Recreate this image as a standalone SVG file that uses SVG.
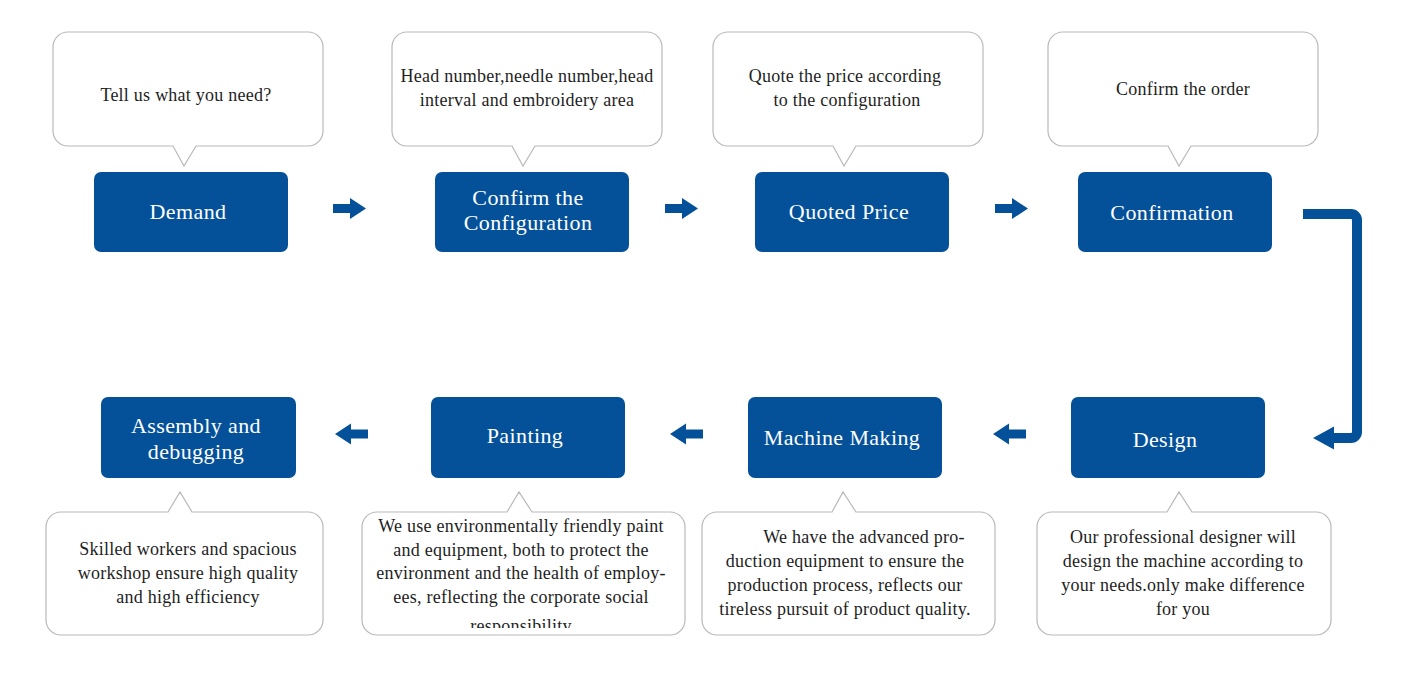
<svg xmlns="http://www.w3.org/2000/svg" width="1425" height="679" viewBox="0 0 1425 679">
<style>
.bubble{fill:#fff;stroke:#b9b9b9;stroke-width:1.2}
.box{fill:#04519a}
.lbl{font-family:"Liberation Serif","Times New Roman",serif;font-size:22px;fill:#fff;text-anchor:middle;letter-spacing:0.4px}
.txt{font-family:"Liberation Serif","Times New Roman",serif;font-size:18px;fill:#1e1e1e;text-anchor:middle;letter-spacing:0.25px}
.arr{fill:#04519a}
</style>
<defs>
<path id="ra" d="M0,-4.5 H17 V-10.5 L33,0 L17,10.5 V4.5 H0 Z"/>
<clipPath id="clipP"><rect x="362" y="512" width="323" height="116"/></clipPath>
</defs>
<rect width="1425" height="679" fill="#fff"/>

<g id="demand">
<path class="bubble" d="M68,32 H308 A15,15 0 0 1 323,47 V131 A15,15 0 0 1 308,146 H196 L184,166 L173,146 H68 A15,15 0 0 1 53,131 V47 A15,15 0 0 1 68,32 Z"/>
<text class="txt" x="186" y="101">Tell us what you need?</text>
<rect class="box" x="94" y="172" width="194" height="80" rx="7"/>
<text class="lbl" x="188" y="219">Demand</text>
</g>

<g id="configuration">
<path class="bubble" d="M407,32 H647 A15,15 0 0 1 662,47 V131 A15,15 0 0 1 647,146 H535 L523,166 L512,146 H407 A15,15 0 0 1 392,131 V47 A15,15 0 0 1 407,32 Z"/>
<text class="txt" x="527" y="82">Head number,needle number,head</text>
<text class="txt" x="527" y="106">interval and embroidery area</text>
<rect class="box" x="435" y="172" width="194" height="80" rx="7"/>
<text class="lbl" x="528" y="205">Confirm the</text>
<text class="lbl" x="528" y="230">Configuration</text>
</g>

<g id="quoted">
<path class="bubble" d="M728,32 H968 A15,15 0 0 1 983,47 V131 A15,15 0 0 1 968,146 H856 L844,166 L833,146 H728 A15,15 0 0 1 713,131 V47 A15,15 0 0 1 728,32 Z"/>
<text class="txt" x="845" y="82">Quote the price according</text>
<text class="txt" x="847" y="106">to the configuration</text>
<rect class="box" x="755" y="172" width="194" height="80" rx="7"/>
<text class="lbl" x="849" y="219">Quoted Price</text>
</g>

<g id="confirmation">
<path class="bubble" d="M1063,32 H1303 A15,15 0 0 1 1318,47 V131 A15,15 0 0 1 1303,146 H1191 L1179,166 L1168,146 H1063 A15,15 0 0 1 1048,131 V47 A15,15 0 0 1 1063,32 Z"/>
<text class="txt" x="1183" y="95">Confirm the order</text>
<rect class="box" x="1078" y="172" width="194" height="80" rx="7"/>
<text class="lbl" x="1172" y="220">Confirmation</text>
</g>

<g id="design">
<path class="bubble" d="M1052,512 H1167 L1179,492 L1192,512 H1316 A15,15 0 0 1 1331,527 V620 A15,15 0 0 1 1316,635 H1052 A15,15 0 0 1 1037,620 V527 A15,15 0 0 1 1052,512 Z"/>
<text class="txt" x="1183" y="543">Our professional designer will</text>
<text class="txt" x="1183" y="567">design the machine according to</text>
<text class="txt" x="1183" y="591">your needs.only make difference</text>
<text class="txt" x="1183" y="615">for you</text>
<rect class="box" x="1071" y="397" width="194" height="81" rx="7"/>
<text class="lbl" x="1165" y="447">Design</text>
</g>

<g id="machine">
<path class="bubble" d="M717,512 H832 L843,492 L856,512 H980 A15,15 0 0 1 995,527 V620 A15,15 0 0 1 980,635 H717 A15,15 0 0 1 702,620 V527 A15,15 0 0 1 717,512 Z"/>
<text class="txt" x="864" y="543">We have the  advanced pro-</text>
<text class="txt" x="845" y="567">duction equipment to ensure the</text>
<text class="txt" x="845" y="591">production process, reflects our</text>
<text class="txt" x="845" y="615">tireless pursuit of product quality.</text>
<rect class="box" x="748" y="397" width="194" height="81" rx="7"/>
<text class="lbl" x="842" y="445">Machine Making</text>
</g>

<g id="painting">
<path class="bubble" d="M377,512 H507 L519,492 L532,512 H670 A15,15 0 0 1 685,527 V620 A15,15 0 0 1 670,635 H377 A15,15 0 0 1 362,620 V527 A15,15 0 0 1 377,512 Z"/>
<g clip-path="url(#clipP)">
<text class="txt" x="521" y="532">We use environmentally friendly paint</text>
<text class="txt" x="521" y="556">and equipment, both to protect the</text>
<text class="txt" x="521" y="579">environment and the health of employ-</text>
<text class="txt" x="521" y="603">ees, reflecting the corporate social</text>
<text class="txt" x="521" y="632">responsibility</text>
</g>
<rect class="box" x="431" y="397" width="194" height="81" rx="7"/>
<text class="lbl" x="525" y="443">Painting</text>
</g>

<g id="assembly">
<path class="bubble" d="M61,512 H168 L180,492 L192,512 H308 A15,15 0 0 1 323,527 V620 A15,15 0 0 1 308,635 H61 A15,15 0 0 1 46,620 V527 A15,15 0 0 1 61,512 Z"/>
<text class="txt" x="188" y="555">Skilled workers and spacious</text>
<text class="txt" x="188" y="579">workshop ensure high quality</text>
<text class="txt" x="188" y="603">and high efficiency</text>
<rect class="box" x="101" y="397" width="195" height="81" rx="7"/>
<text class="lbl" x="196" y="433">Assembly and</text>
<text class="lbl" x="196" y="459">debugging</text>
</g>

<g id="connectors">
<use href="#ra" class="arr" transform="translate(333,208.5)"/>
<use href="#ra" class="arr" transform="translate(665,208.5)"/>
<use href="#ra" class="arr" transform="translate(995,208.5)"/>
<path d="M1303,214 H1351 A6,6 0 0 1 1357,220 V432 A6,6 0 0 1 1351,438 H1332" fill="none" stroke="#04519a" stroke-width="10"/>
<polygon class="arr" points="1313,438 1334,426.5 1334,449.5"/>
<use href="#ra" class="arr" transform="translate(1026,434) scale(-1,1)"/>
<use href="#ra" class="arr" transform="translate(703,434) scale(-1,1)"/>
<use href="#ra" class="arr" transform="translate(368,434) scale(-1,1)"/>
</g>
</svg>
